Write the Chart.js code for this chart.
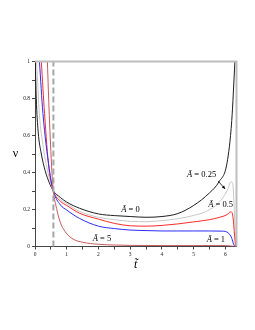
<!DOCTYPE html>
<html lang="es">
<head>
<meta charset="utf-8">
<style>
  html, body { margin: 0; padding: 0; background: #fff; }
  canvas { display: block; }
</style>
</head>
<body>
<canvas id="grafico" width="255" height="330"></canvas>
<script src="https://cdn.jsdelivr.net/npm/chart.js@4/dist/chart.umd.min.js"></script>
<script>
// valores leídos a ojo del gráfico original
const tiemposA0 = [0.01, 0.04, 0.1, 0.2, 0.32, 0.45, 0.58, 0.8, 1.0, 1.4, 2.0, 2.5, 3.0, 3.5, 4.0, 4.5, 5.0, 5.5, 5.8, 6.05, 6.2, 6.3];
const nuA0 = [1.0, 0.8, 0.62, 0.5, 0.41, 0.345, 0.3, 0.265, 0.24, 0.207, 0.176, 0.167, 0.162, 0.158, 0.162, 0.178, 0.222, 0.29, 0.35, 0.45, 0.68, 1.0];

const tiemposA025 = [0.05, 0.14, 0.25, 0.39, 0.58, 0.8, 1.0, 1.4, 2.0, 2.5, 3.0, 3.5, 4.0, 4.5, 5.0, 5.4, 5.8, 6.05, 6.18, 6.23, 6.28, 6.32, 6.33];
const nuA025 = [1.0, 0.71, 0.55, 0.414, 0.3, 0.255, 0.232, 0.19, 0.158, 0.145, 0.136, 0.134, 0.14, 0.15, 0.168, 0.19, 0.238, 0.3, 0.35, 0.34, 0.2, 0.02, 0.0];

const tiemposA05 = [0.2, 0.3, 0.44, 0.58, 0.8, 1.0, 1.4, 2.0, 2.5, 3.0, 3.5, 4.0, 4.5, 5.0, 5.5, 5.8, 6.05, 6.17, 6.23, 6.28, 6.32];
const nuA05 = [1.0, 0.72, 0.42, 0.3, 0.245, 0.222, 0.18, 0.148, 0.125, 0.112, 0.11, 0.114, 0.122, 0.133, 0.145, 0.157, 0.172, 0.188, 0.17, 0.08, 0.0];

const tiemposA1 = [0.14, 0.25, 0.45, 0.58, 0.8, 1.0, 1.4, 2.0, 2.5, 3.0, 3.5, 4.0, 4.5, 5.0, 5.5, 5.9, 6.1, 6.2, 6.26, 6.3];
const nuA1 = [1.0, 0.72, 0.42, 0.3, 0.225, 0.197, 0.152, 0.11, 0.097, 0.089, 0.086, 0.084, 0.084, 0.084, 0.084, 0.083, 0.072, 0.045, 0.012, 0.0];

const tiemposA5 = [0.39, 0.45, 0.53, 0.58, 0.68, 0.79, 0.95, 1.2, 1.5, 2.0, 2.5, 3.0, 4.0, 5.0, 6.0, 6.3];
const nuA5 = [1.0, 0.71, 0.414, 0.3, 0.206, 0.134, 0.08, 0.04, 0.023, 0.012, 0.008, 0.006, 0.005, 0.005, 0.005, 0.0];

const T_MAX = 6.35;
const T_CRUCE = 0.58;

const etiquetas = [
  { valor: "0", t: 3.01, nu: 0.197 },
  { valor: "5", t: 2.11, nu: 0.04 },
  { valor: "0.25", t: 5.25, nu: 0.386 },
  { valor: "0.5", t: 5.85, nu: 0.224 },
  { valor: "1", t: 5.7, nu: 0.038 },
];

const flecha = { desde: [5.77, 0.354], hasta: [5.99, 0.311] };

const aPuntos = (ts, nus) => ts.map((t, i) => ({ x: t, y: nus[i] }));

const curva = (nombre, ts, nus, color) => ({
  label: nombre,
  data: aPuntos(ts, nus),
  borderColor: color,
  borderWidth: 1,
  pointRadius: 0,
  showLine: true,
  cubicInterpolationMode: "monotone",
});

const guia = (nombre, puntos, color, ancho, guiones) => ({
  label: nombre,
  data: puntos,
  borderColor: color,
  borderWidth: ancho,
  borderDash: guiones,
  pointRadius: 0,
  showLine: true,
  clip: false,
});

const fuente = "'Liberation Serif', 'DejaVu Serif', serif";

const textos = {
  id: "textos",
  afterDatasetsDraw(chart) {
    const { ctx, chartArea } = chart;
    const { x, y } = chart.scales;
    ctx.save();
    ctx.fillStyle = "#000";
    ctx.textBaseline = "middle";
    ctx.textAlign = "left";

    etiquetas.forEach(({ valor, t, nu }) => {
      const px = x.getPixelForValue(t);
      const py = y.getPixelForValue(nu);
      const resto = " = " + valor;
      ctx.font = `italic 8.5px ${fuente}`;
      const anchoA = ctx.measureText("Ã").width;
      ctx.font = `8.5px ${fuente}`;
      const anchoResto = ctx.measureText(resto).width;
      const inicio = px - (anchoA + anchoResto) / 2;
      ctx.font = `italic 8.5px ${fuente}`;
      ctx.fillText("Ã", inicio, py);
      ctx.font = `8.5px ${fuente}`;
      ctx.fillText(resto, inicio + anchoA, py);
    });

    // flecha de la etiqueta 0.25
    const x1 = x.getPixelForValue(flecha.desde[0]);
    const y1 = y.getPixelForValue(flecha.desde[1]);
    const x2 = x.getPixelForValue(flecha.hasta[0]);
    const y2 = y.getPixelForValue(flecha.hasta[1]);
    const angulo = Math.atan2(y2 - y1, x2 - x1);
    ctx.strokeStyle = "#000";
    ctx.lineWidth = 0.8;
    ctx.beginPath();
    ctx.moveTo(x1, y1);
    ctx.lineTo(x2, y2);
    ctx.stroke();
    ctx.beginPath();
    ctx.moveTo(x2, y2);
    ctx.lineTo(x2 - 3.5 * Math.cos(angulo - 0.45), y2 - 3.5 * Math.sin(angulo - 0.45));
    ctx.lineTo(x2 - 3.5 * Math.cos(angulo + 0.45), y2 - 3.5 * Math.sin(angulo + 0.45));
    ctx.closePath();
    ctx.fill();

    // títulos de los ejes
    ctx.textAlign = "center";
    ctx.font = `12px ${fuente}`;
    ctx.fillText("ν", 15.5, (chartArea.top + chartArea.bottom) / 2);
    ctx.font = `italic 12px ${fuente}`;
    ctx.fillText("t\u0303", (chartArea.left + chartArea.right) / 2, 265);
    ctx.restore();
  },
};

const formatearTick = (v) => String(Math.round(v * 10) / 10);

new Chart(document.querySelector("#grafico"), {
  type: "scatter",
  data: {
    datasets: [
      guia("marco", [{ x: 0, y: 1 }, { x: T_MAX, y: 1 }, { x: T_MAX, y: 0 }], "#bdbdbd", 2, []),
      guia("tope", [{ x: 0, y: 1 }, { x: T_MAX, y: 1 }], "#6e6e6e", 1.2, [4, 2]),
      guia("cruce", [{ x: T_CRUCE, y: 0 }, { x: T_CRUCE, y: 1 }], "#a6a6a6", 2, [6, 3]),
      curva("A=5", tiemposA5, nuA5, "#c25a5a"),
      curva("A=1", tiemposA1, nuA1, "#2b2bff"),
      curva("A=0.5", tiemposA05, nuA05, "#ff2a2a"),
      curva("A=0.25", tiemposA025, nuA025, "#c8c8c8"),
      curva("A=0", tiemposA0, nuA0, "#1e1e1e"),
    ],
  },
  options: {
    responsive: false,
    animation: false,
    layout: { padding: { left: 0, top: 61.5, right: 18.5, bottom: 0 } },
    plugins: { legend: { display: false }, tooltip: { enabled: false } },
    scales: {
      x: {
        type: "linear",
        min: 0,
        max: T_MAX,
        afterFit: (escala) => { escala.height = 83.5; },
        border: { color: "#444", width: 1 },
        grid: { drawOnChartArea: false, tickLength: 3, color: "#444" },
        ticks: {
          stepSize: 0.5,
          includeBounds: false,
          autoSkip: false,
          maxRotation: 0,
          padding: 2,
          color: "#222",
          font: { family: fuente, size: 5.5 },
          callback: (v) => (Math.abs(v - Math.round(v)) < 1e-6 ? String(Math.round(v)) : ""),
        },
      },
      y: {
        min: 0,
        max: 1,
        afterFit: (escala) => { escala.width = 35; },
        border: { color: "#444", width: 1 },
        grid: { drawOnChartArea: false, tickLength: 3, color: "#444" },
        ticks: {
          stepSize: 0.1,
          autoSkip: false,
          padding: 2,
          color: "#222",
          font: { family: fuente, size: 5.5 },
          callback: (v) => (Math.round(v * 10) % 2 === 0 ? formatearTick(v) : ""),
        },
      },
    },
  },
  plugins: [textos],
});
</script>
</body>
</html>
